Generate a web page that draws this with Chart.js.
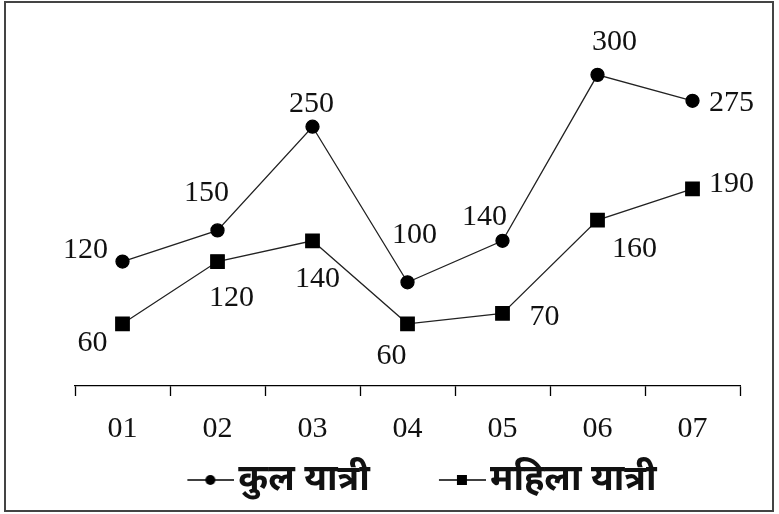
<!DOCTYPE html>
<html>
<head>
<meta charset="utf-8">
<script src="https://cdn.jsdelivr.net/npm/chart.js@4.4.1/dist/chart.umd.min.js"></script>
<style>
  html, body { margin: 0; padding: 0; background: #fff; }
  #wrap { width: 779px; height: 514px; }
</style>
</head>
<body>
<div id="wrap"><canvas id="chart"></canvas></div>
<script>
const categories = ['01', '02', '03', '04', '05', '06', '07'];
const totalPassengers = [120, 150, 250, 100, 140, 300, 275];
const femalePassengers = [60, 120, 140, 60, 70, 160, 190];
const seriesNames = ['कुल यात्री', 'महिला यात्री'];

// label offsets from each point (style only)
const totalLabelOffset = [[-37, -11], [-11, -37], [-1, -23], [7, -47], [-18, -24], [17, -33], [39, 2]];
const femaleLabelOffset = [[-30, 19], [14, 37], [5, 38], [-16, 32], [42, 4], [37, 29], [39, -5]];

const NUM_FONT = '"Liberation Serif", "Times New Roman", serif';
const LEGEND_FONT_SIZE = 36;
const BOX_W = 95;

function legendMarker(style) {
    const c = document.createElement('canvas');
    const inset = LEGEND_FONT_SIZE / 2 - 4;
    c.width = BOX_W + inset * 2;
    c.height = 16;
    const g = c.getContext('2d');
    const x0 = c.width - 47;
    g.strokeStyle = '#000';
    g.lineWidth = 1.5;
    g.beginPath();
    g.moveTo(x0, 8);
    g.lineTo(c.width, 8);
    g.stroke();
    g.fillStyle = '#000';
    const cx = x0 + 23;
    if (style === 'circle') {
        g.beginPath();
        g.arc(cx, 8, 5, 0, Math.PI * 2);
        g.fill();
    } else {
        g.fillRect(cx - 5, 3, 10, 10);
    }
    return c;
}

const valueLabels = {
    id: 'valueLabels',
    afterDatasetsDraw(chart) {
        const ctx = chart.ctx;
        ctx.save();
        ctx.font = '30px ' + NUM_FONT;
        ctx.fillStyle = '#111';
        ctx.textAlign = 'center';
        ctx.textBaseline = 'middle';
        const offsets = [totalLabelOffset, femaleLabelOffset];
        chart.data.datasets.forEach((ds, i) => {
            chart.getDatasetMeta(i).data.forEach((pt, j) => {
                const [dx, dy] = offsets[i][j];
                ctx.fillText(ds.data[j], pt.x + dx, pt.y + dy);
            });
        });
        ctx.restore();
    }
};

const frame = {
    id: 'frame',
    afterDraw(chart) {
        const ctx = chart.ctx;
        ctx.save();
        ctx.strokeStyle = '#444';
        ctx.lineWidth = 2;
        ctx.strokeRect(5, 2, 768, 509);
        ctx.restore();
    }
};

new Chart(document.getElementById('chart'), {
    type: 'line',
    data: {
        labels: categories,
        datasets: [{
            label: seriesNames[0],
            data: totalPassengers,
            borderColor: '#222',
            borderWidth: 1.3,
            pointStyle: 'circle',
            pointRadius: 6.5,
            pointBackgroundColor: '#000',
            pointBorderColor: '#000',
            tension: 0
        }, {
            label: seriesNames[1],
            data: femalePassengers,
            borderColor: '#222',
            borderWidth: 1.3,
            pointStyle: 'rect',
            pointRadius: 9.5,
            pointBackgroundColor: '#000',
            pointBorderColor: '#000',
            tension: 0
        }]
    },
    options: {
        responsive: true,
        maintainAspectRatio: false,
        animation: false,
        layout: { padding: { left: 42, right: 39, top: 23, bottom: 6 } },
        scales: {
            x: {
                offset: true,
                grid: {
                    offset: true,
                    drawOnChartArea: false,
                    color: '#000',
                    tickLength: 10,
                    tickWidth: 1.3
                },
                border: { display: true, color: '#000', width: 1.3 },
                ticks: {
                    color: '#111',
                    padding: 26,
                    font: { family: NUM_FONT, size: 30, lineHeight: 0.5 }
                },
                afterFit(scale) { scale.height -= 8; }
            },
            y: {
                min: 0,
                max: 350,
                grid: { display: false },
                border: { display: false },
                ticks: { display: false },
                afterFit(scale) { scale.width = 33; }
            }
        },
        plugins: {
            tooltip: { enabled: false },
            legend: {
                position: 'bottom',
                labels: {
                    color: '#111',
                    usePointStyle: true,
                    pointStyleWidth: BOX_W,
                    padding: 7,
                    font: { family: '"Noto Sans", sans-serif', size: LEGEND_FONT_SIZE, weight: 'bold' },
                    generateLabels(chart) {
                        return chart.data.datasets.map((ds, i) => ({
                            text: ds.label,
                            pointStyle: legendMarker(ds.pointStyle),
                            fillStyle: '#000',
                            strokeStyle: '#000',
                            lineWidth: 0,
                            fontColor: '#111',
                            datasetIndex: i
                        }));
                    }
                }
            }
        }
    },
    plugins: [valueLabels, frame]
});
</script>
</body>
</html>
